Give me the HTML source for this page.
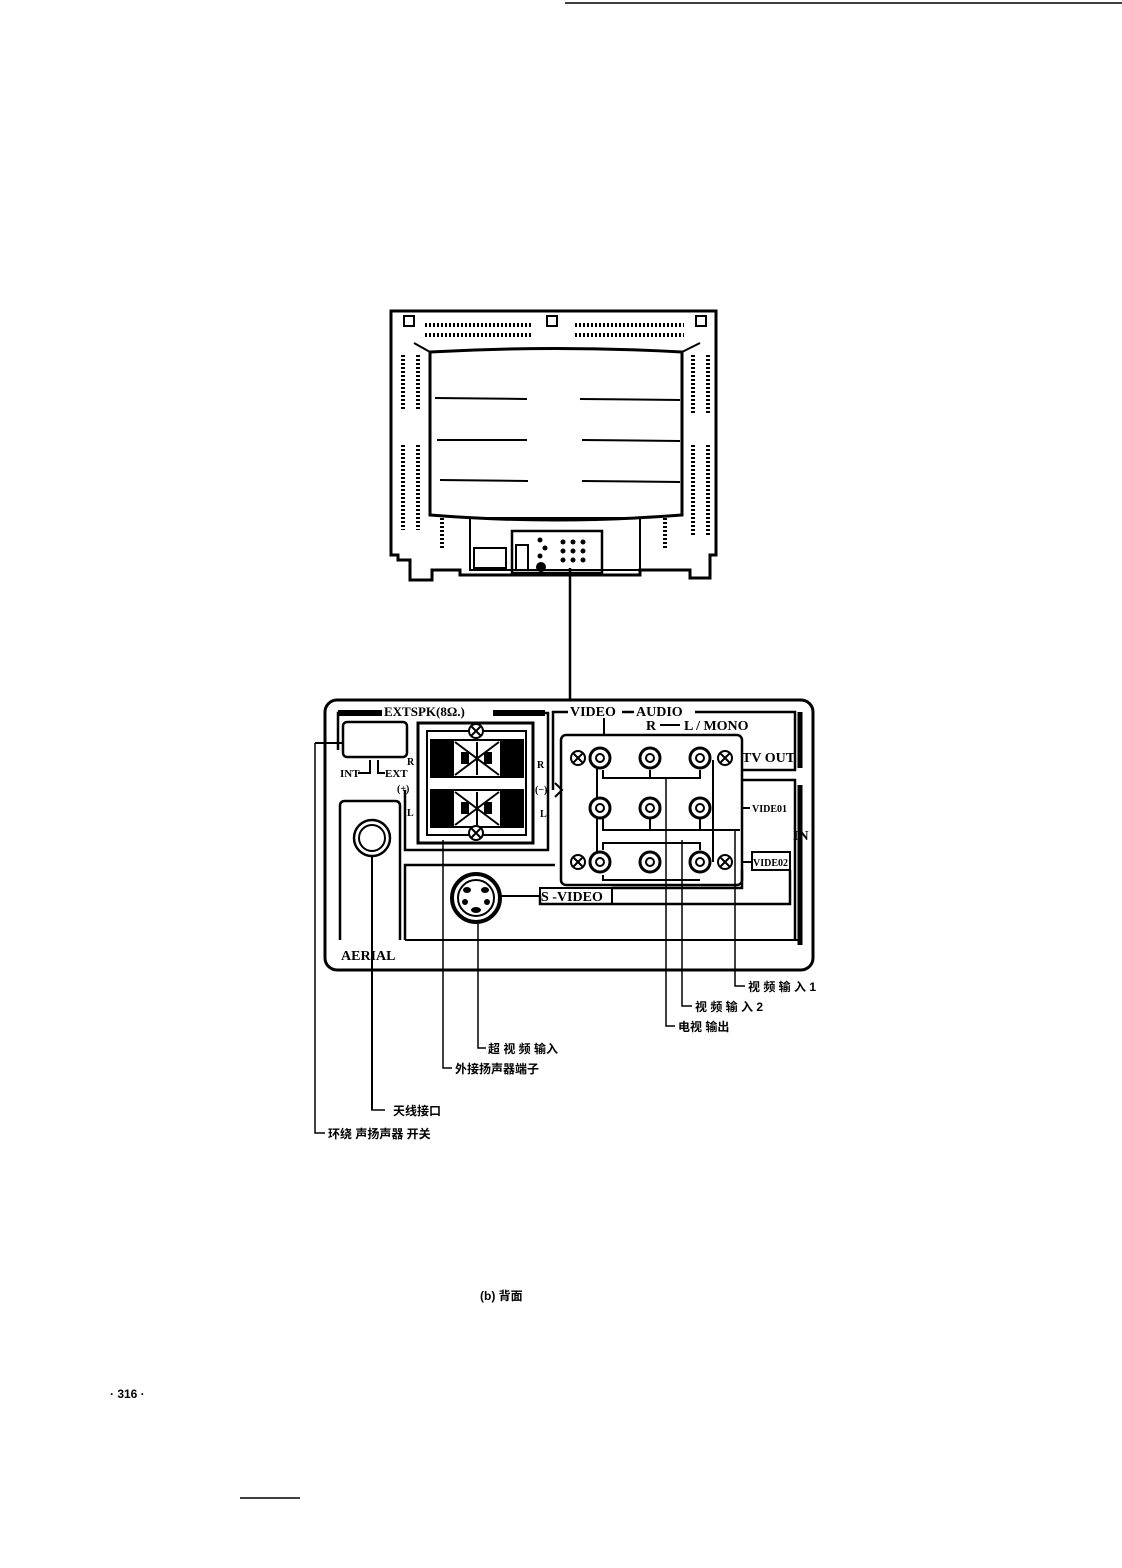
<!DOCTYPE html>
<html><head><meta charset="utf-8"><style>
html,body{margin:0;padding:0;background:#fff;}
svg{display:block}
text{font-family:"Liberation Serif","Noto Serif CJK SC",serif;font-weight:bold;fill:#000;stroke:none}
.c{font-family:"Liberation Sans","Noto Sans CJK SC",sans-serif;font-weight:bold}
</style></head><body>
<svg width="1122" height="1568" viewBox="0 0 1122 1568" xmlns="http://www.w3.org/2000/svg" stroke="#000" fill="none" stroke-width="2">
<line x1="565" y1="3" x2="1122" y2="3" stroke-width="1.5"/>
<!-- TV -->
<path d="M391 311 H716 V555 H710 V578 H690 V570 H640 V575 H460 V570 H432 V580 H410 V560 H398 V555 H391 Z" stroke-width="3"/>
<rect x="404" y="316" width="10" height="10"/><rect x="547" y="316" width="10" height="10"/><rect x="696" y="316" width="10" height="10"/>
<g stroke-width="4" stroke-dasharray="2 2">
<line x1="425" y1="325" x2="532" y2="325"/><line x1="425" y1="335" x2="532" y2="335"/>
<line x1="575" y1="325" x2="684" y2="325"/><line x1="575" y1="335" x2="684" y2="335"/>
<line x1="403" y1="355" x2="403" y2="410"/><line x1="418" y1="355" x2="418" y2="410"/>
<line x1="403" y1="445" x2="403" y2="530"/><line x1="418" y1="445" x2="418" y2="530"/>
<line x1="693" y1="355" x2="693" y2="415"/><line x1="708" y1="355" x2="708" y2="415"/>
<line x1="693" y1="445" x2="693" y2="535"/><line x1="708" y1="445" x2="708" y2="535"/>
<line x1="442" y1="518" x2="442" y2="550"/><line x1="665" y1="518" x2="665" y2="550"/>
</g>
<line x1="414" y1="343" x2="430" y2="352"/><line x1="682" y1="352" x2="700" y2="343"/>
<path d="M430 352 Q555 345 682 352 V515 Q555 525 430 515 Z" stroke-width="3"/>
<g stroke-width="2"><line x1="435" y1="398" x2="527" y2="399"/><line x1="580" y1="399" x2="680" y2="400"/>
<line x1="437" y1="440" x2="527" y2="440"/><line x1="582" y1="440" x2="680" y2="441"/>
<line x1="440" y1="480" x2="528" y2="481"/><line x1="582" y1="481" x2="680" y2="482"/></g>
<rect x="470" y="518" width="170" height="52"/>
<rect x="474" y="548" width="32" height="20"/>
<rect x="512" y="531" width="90" height="42" stroke-width="2.5"/>
<rect x="516" y="545" width="12" height="25"/>
<g fill="#000" stroke="none"><circle cx="541" cy="567" r="5"/>
<circle cx="563" cy="542" r="2.5"/><circle cx="573" cy="542" r="2.5"/><circle cx="583" cy="542" r="2.5"/>
<circle cx="563" cy="551" r="2.5"/><circle cx="573" cy="551" r="2.5"/><circle cx="583" cy="551" r="2.5"/>
<circle cx="563" cy="560" r="2.5"/><circle cx="573" cy="560" r="2.5"/><circle cx="583" cy="560" r="2.5"/>
<circle cx="540" cy="540" r="2.5"/><circle cx="545" cy="548" r="2.5"/><circle cx="540" cy="556" r="2.5"/></g>
<line x1="570" y1="568" x2="570" y2="700" stroke-width="2.5"/>
<!-- Panel -->
<rect x="325" y="700" width="488" height="270" rx="12" stroke-width="3"/>
<path d="M338 750 V713 H382 M493 713 H548 V850 H405 V790" stroke-width="2.5"/>
<line x1="338" y1="713" x2="382" y2="713" stroke-width="6"/><line x1="493" y1="713" x2="545" y2="713" stroke-width="6"/>
<rect x="343" y="722" width="64" height="35" rx="4" stroke-width="2.5"/>
<line x1="315" y1="743" x2="343" y2="743"/>
<path d="M358 773 H370 V760 M378 760 V773 H385"/>
<text x="340" y="777" font-size="11">INT</text><text x="385" y="777" font-size="11">EXT</text>
<text x="407" y="765" font-size="10">R</text><text x="397" y="792" font-size="10">(+)</text><text x="407" y="816" font-size="10">L</text>
<text x="384" y="716" font-size="13">EXTSPK(8Ω.)</text>
<rect x="418" y="723" width="115" height="120" stroke-width="3"/>
<rect x="427" y="731" width="99" height="104" stroke-width="2"/>
<rect x="431" y="740" width="92" height="37" fill="#000"/><rect x="431" y="790" width="92" height="37" fill="#000"/>
<g stroke="#fff" stroke-width="2" fill="#fff">
<rect x="455" y="742" width="44" height="33"/><rect x="455" y="792" width="44" height="33"/></g>
<g stroke="#000" stroke-width="2"><path d="M455 742 L499 775 M499 742 L455 775 M477 742 V775 M455 792 L499 825 M499 792 L455 825 M477 792 V825"/>
<rect x="462" y="753" width="6" height="10" fill="#000"/><rect x="485" y="753" width="6" height="10" fill="#000"/>
<rect x="462" y="803" width="6" height="10" fill="#000"/><rect x="485" y="803" width="6" height="10" fill="#000"/></g>
<g fill="#fff"><circle cx="476" cy="731" r="7"/><circle cx="476" cy="833" r="7"/></g>
<path d="M471 726 L481 736 M481 726 L471 736 M471 828 L481 838 M481 828 L471 838"/>
<text x="537" y="768" font-size="10">R</text><text x="535" y="793" font-size="10">(−)</text><text x="540" y="817" font-size="10">L</text>
<path d="M555 783 L562 790 L555 797" fill="none"/>
<!-- aerial -->
<path d="M340 940 V806 Q340 801 345 801 H395 Q400 801 400 806 V940" stroke-width="2.5"/>
<circle cx="372" cy="838" r="18" stroke-width="2.5"/><circle cx="372" cy="838" r="13" stroke-width="2"/>
<text x="341" y="960" font-size="14">AERIAL</text>
<line x1="372" y1="856" x2="372" y2="1110"/>
<!-- av -->
<path d="M553 790 V712 H568 M622 712 H634 M695 712 H795 V770 H742" stroke-width="2.5"/>
<text x="570" y="716" font-size="14">VIDEO</text><text x="636" y="716" font-size="14">AUDIO</text>
<text x="646" y="730" font-size="14">R</text><line x1="660" y1="725" x2="680" y2="725"/><text x="684" y="730" font-size="14">L / MONO</text>
<line x1="604" y1="718" x2="604" y2="735"/>
<line x1="800" y1="712" x2="800" y2="768" stroke-width="5"/>
<rect x="561" y="735" width="181" height="150" rx="5" stroke-width="2.5"/>
<path d="M597 760 V862 M713 760 V862 M603 770 V778 H700 V770 M603 818 V830 H740 M650 818 V830 M700 818 V830 M603 850 V843 H700 V850 M603 875 V880 H700 M650 770 V778"/>
<g stroke-width="3" fill="#fff">
<circle cx="600" cy="758" r="10"/><circle cx="650" cy="758" r="10"/><circle cx="700" cy="758" r="10"/>
<circle cx="600" cy="808" r="10"/><circle cx="650" cy="808" r="10"/><circle cx="700" cy="808" r="10"/>
<circle cx="600" cy="862" r="10"/><circle cx="650" cy="862" r="10"/><circle cx="700" cy="862" r="10"/></g>
<g stroke-width="2"><circle cx="600" cy="758" r="4"/><circle cx="650" cy="758" r="4"/><circle cx="700" cy="758" r="4"/>
<circle cx="600" cy="808" r="4"/><circle cx="650" cy="808" r="4"/><circle cx="700" cy="808" r="4"/>
<circle cx="600" cy="862" r="4"/><circle cx="650" cy="862" r="4"/><circle cx="700" cy="862" r="4"/></g>
<g fill="#fff"><circle cx="578" cy="758" r="7"/><circle cx="725" cy="758" r="7"/><circle cx="578" cy="862" r="7"/><circle cx="725" cy="862" r="7"/></g>
<path d="M573 753 L583 763 M583 753 L573 763 M720 753 L730 763 M730 753 L720 763 M573 857 L583 867 M583 857 L573 867 M720 857 L730 867 M730 857 L720 867"/>
<text x="742" y="762" font-size="14" font-weight="normal">TV OUT</text>
<line x1="742" y1="808" x2="750" y2="808"/><text x="752" y="812" font-size="10">VIDE01</text>
<path d="M742 862 H752 M752 852 H790 V870 H752 Z"/><text x="753" y="866" font-size="10">VIDE02</text>
<text x="793" y="840" font-size="14">IN</text>
<line x1="800" y1="785" x2="800" y2="945" stroke-width="5"/>
<path d="M742 780 H795 V940 M405 940 V865 H555 M742 870 V888 H612 M790 870 V904 H540 V896" stroke-width="2.5"/>
<path d="M405 940 H800"/>
<circle cx="476" cy="898" r="24" stroke-width="4"/><circle cx="476" cy="898" r="18" stroke-width="2"/>
<g fill="#000" stroke="none"><ellipse cx="467" cy="890" rx="4" ry="3"/><ellipse cx="485" cy="890" rx="4" ry="3"/><ellipse cx="465" cy="902" rx="3" ry="3"/><ellipse cx="487" cy="902" rx="3" ry="3"/><ellipse cx="476" cy="910" rx="5" ry="3"/></g>
<path d="M500 896 H540 V888 H612 V904 H540"/>
<text x="541" y="901" font-size="14" font-weight="normal">S -VIDEO</text>
<!-- leaders -->
<path d="M315 743 V1133 H325 M372 958 V1110 H385 M443 840 V1068 H452 M478 922 V1048 H486 M666 778 V1026 H675 M682 840 V1006 H692 M735 830 V986 H745" stroke-width="1.5"/>
<g font-size="12">
<text x="748" y="991" class="c">视 频 输 入 1</text>
<text x="695" y="1011" class="c">视 频 输 入 2</text>
<text x="678" y="1031" class="c">电视 输出</text>
<text x="488" y="1053" class="c">超 视 频 输入</text>
<text x="455" y="1073" class="c">外接扬声器端子</text>
<text x="393" y="1115" class="c">天线接口</text>
<text x="328" y="1138" class="c">环绕 声扬声器 开关</text>
<text x="480" y="1300" class="c" font-weight="normal">(b) 背面</text>
<text x="110" y="1398" class="c" font-weight="normal">· 316 ·</text>
</g>
<line x1="240" y1="1498" x2="300" y2="1498" stroke-width="1.5"/>
</svg>
</body></html>
